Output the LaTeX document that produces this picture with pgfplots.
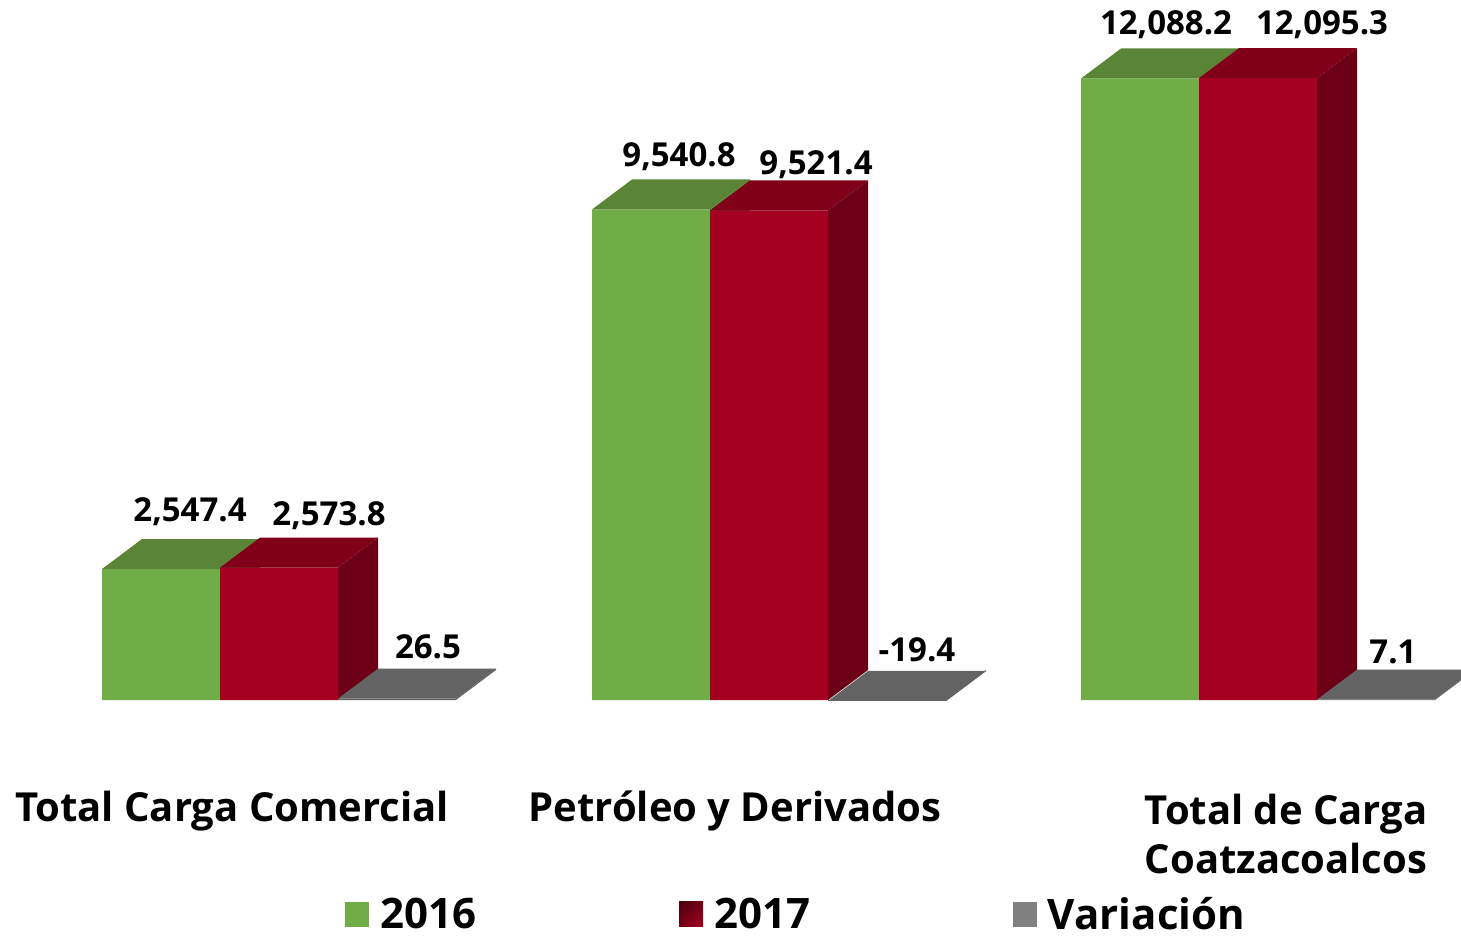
\documentclass[border=0pt]{standalone}
\usepackage{pgfplots}
\pgfplotsset{compat=1.18}
\usetikzlibrary{shadings}
\usepackage{fontspec}
\setmainfont{Open Sans}
\definecolor{gfront}{HTML}{70AD47}
\definecolor{gtop}{HTML}{5A8537}
\definecolor{gside}{HTML}{4E7530}
\definecolor{rfront}{HTML}{A50021}
\definecolor{rtop}{HTML}{800019}
\definecolor{rside}{HTML}{6B0016}
\definecolor{vgray}{HTML}{636363}
\definecolor{vkey}{HTML}{808080}
\definecolor{rdark}{HTML}{4A000E}
\newcommand{\vlab}{\fontsize{33}{38}\selectfont\bfseries}
\newcommand{\clab}{\fontsize{40}{49}\selectfont\bfseries}
\begin{document}
\begin{tikzpicture}
\begin{axis}[
  scale only axis, width=1461pt, height=940pt,
  xmin=0, xmax=1461, ymin=-4668, ymax=13615,
  axis line style={draw=none}, ticks=none, clip=false,
  legend columns=3,
  legend style={draw=none, fill=none, at={(axis cs:345,-4163)}, anchor=west,
    inner sep=0pt, font=\fontsize{42}{46}\selectfont\bfseries,
    nodes={inner sep=0pt},
    /tikz/every odd column/.append style={column sep=11pt},
    /tikz/every even column/.append style={column sep=203pt}},
  legend cell align=left,
]
% ---------- 2016 (green) ----------
\addplot[forget plot, fill=gside, draw=none] coordinates {(220,0) (220,2547.4) (260,3130.9) (260,583.5)};
\addplot[forget plot, fill=gside, draw=none] coordinates {(710,0) (710,9540.8) (750,10124.3) (750,583.5)};
\addplot[forget plot, fill=gside, draw=none] coordinates {(1199,0) (1199,12088.2) (1239,12671.7) (1239,583.5)};
\addplot[ybar, bar width=118, bar shift=0, fill=gfront, draw=none,
  legend image code/.code={\fill[gfront] (0pt,-12.5pt) rectangle (24pt,12.5pt);}]
  coordinates {(161,2547.4) (651,9540.8) (1140,12088.2)};
\addlegendentry{2016}
\addplot[forget plot, fill=gtop, draw=none] coordinates {(102,2547.4) (220,2547.4) (260,3130.9) (142,3130.9)};
\addplot[forget plot, fill=gtop, draw=none] coordinates {(592,9540.8) (710,9540.8) (750,10124.3) (632,10124.3)};
\addplot[forget plot, fill=gtop, draw=none] coordinates {(1081,12088.2) (1199,12088.2) (1239,12671.7) (1121,12671.7)};
% ---------- 2017 (red) ----------
\addplot[forget plot, fill=rside, draw=none] coordinates {(338,0) (338,2573.8) (378,3157.3) (378,583.5)};
\addplot[forget plot, fill=rside, draw=none] coordinates {(828,0) (828,9521.4) (868,10104.9) (868,583.5)};
\addplot[forget plot, fill=rside, draw=none] coordinates {(1317,0) (1317,12095.3) (1357,12678.8) (1357,583.5)};
\addplot[ybar, bar width=118, bar shift=0, fill=rfront, draw=none,
  legend image code/.code={\shade[upper left=rdark, lower left=rdark!55!rfront, upper right=rdark!55!rfront, lower right=rfront] (0pt,-12.5pt) rectangle (24pt,12.5pt);}]
  coordinates {(279,2573.8) (769,9521.4) (1258,12095.3)};
\addlegendentry{2017}
\addplot[forget plot, fill=rtop, draw=none] coordinates {(220,2573.8) (338,2573.8) (378,3157.3) (260,3157.3)};
\addplot[forget plot, fill=rtop, draw=none] coordinates {(710,9521.4) (828,9521.4) (868,10104.9) (750,10104.9)};
\addplot[forget plot, fill=rtop, draw=none] coordinates {(1199,12095.3) (1317,12095.3) (1357,12678.8) (1239,12678.8)};
% ---------- Variacion (gray) ----------
\addplot[forget plot, fill=vgray, draw=none] coordinates {(456,0) (456,26.5) (496,610.0) (496,583.5)};
\addplot[forget plot, fill=vgray, draw=none] coordinates {(946,0) (946,-19.4) (986,564.1) (986,583.5)};
\addplot[forget plot, fill=vgray, draw=none] coordinates {(1435,0) (1435,7.1) (1475,590.6) (1475,583.5)};
\addplot[ybar, bar width=118, bar shift=0, fill=vgray, draw=none,
  legend image code/.code={\fill[vkey] (0pt,-12.5pt) rectangle (24pt,12.5pt);}]
  coordinates {(397,26.5) (887,-19.4) (1376,7.1)};
\addlegendentry{Variación}
\addplot[forget plot, fill=vgray, draw=none] coordinates {(338,26.5) (456,26.5) (496,610.0) (378,610.0)};
\addplot[forget plot, fill=vgray, draw=none] coordinates {(828,-19.4) (946,-19.4) (986,564.1) (868,564.1)};
\addplot[forget plot, fill=vgray, draw=none] coordinates {(1317,7.1) (1435,7.1) (1475,590.6) (1357,590.6)};
% ---------- value labels ----------
\node[font=\vlab] at (axis cs:190,3656.6) {2,547.4};
\node[font=\vlab] at (axis cs:329,3578.8) {2,573.8};
\node[font=\vlab] at (axis cs:428,1030.9) {26.5};
\node[font=\vlab] at (axis cs:679,10561.4) {9,540.8};
\node[font=\vlab] at (axis cs:816,10405.8) {9,521.4};
\node[font=\vlab] at (axis cs:917,972.5) {-19.4};
\node[font=\vlab] at (axis cs:1166,13128.8) {12,088.2};
\node[font=\vlab] at (axis cs:1322,13128.8) {12,095.3};
\node[font=\vlab] at (axis cs:1393,933.6) {7.1};
% ---------- category labels ----------
\node[font=\clab] at (axis cs:232,-2159) {Total Carga Comercial};
\node[font=\clab] at (axis cs:735,-2159) {Petróleo y Derivados};
\node[font=\clab, align=center] at (axis cs:1286,-2606) {Total de Carga\\Coatzacoalcos};
\end{axis}
\pgfresetboundingbox
\path[use as bounding box] (current axis.south west) rectangle (current axis.north east);
\end{tikzpicture}
\end{document}
